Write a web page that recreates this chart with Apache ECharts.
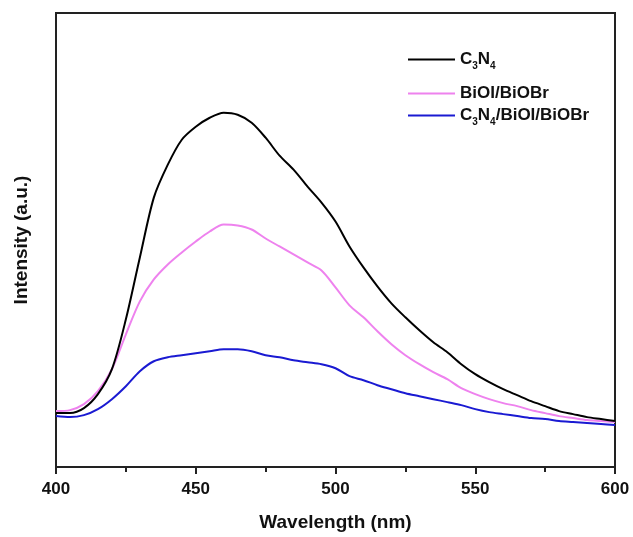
<!DOCTYPE html>
<html>
<head>
<meta charset="utf-8">
<script src="https://cdn.jsdelivr.net/npm/echarts@6/dist/echarts.min.js"></script>
<style>
html,body{margin:0;padding:0;background:#fff;}
#chart{width:633px;height:537px;}
</style>
</head>
<body>
<div id="chart"></div>
<script>
// wavelength (nm), every 5 nm
var wavelengths = [];
for (var w = 400; w <= 600; w += 5) wavelengths.push(w);

// intensity (arbitrary units)
var c3n4 = [54,54,59,73,98,148,210,270,303,328,341,350,355,353,345,330,312,298,281,265,
  246,221,200,181,164,150,137,125,115,103,93,85,78,72,66,61,56,53,50,48,46];
var bioiBiobr = [56,57,63,76,98,133,166,188,203,215,226,236,243,242,238,229,221,213,205,197,
  180,162,150,136,123,112,103,95,88,79,73,68,64,61,57,54,51,49,47,46,45];
var ternary = [51,50,52,58,68,81,96,106,110,112,114,116,118,118,116,112,110,107,105,103,
  99,91,87,82,78,74,71,68,65,62,58,55,53,51,49,48,46,45,44,43,42];

var names = ['C3N4', 'BiOI/BiOBr', 'C3N4/BiOI/BiOBr'];
var colors = ['#000000', '#ee82ee', '#1a1ad2'];
var allData = [c3n4, bioiBiobr, ternary];

var fontFam = '"Liberation Sans", Arial, sans-serif';

function pairs(ys){
	var out = [];
	for (var i = 0; i < ys.length; i++) out.push([wavelengths[i], ys[i]]);
	return out;
}

function legendLabel(name){
	return name.replace(/C3N4/g, 'C{sub|3}N{sub|4}');
}

var series = [];
var legends = [];
var legendTops = [46, 80, 102];
for (var i = 0; i < names.length; i++) {
	series.push({
		name: names[i],
		type: 'line',
		data: pairs(allData[i]),
		smooth: 0.3,
		symbol: 'none',
		lineStyle: {color: colors[i], width: 2},
		itemStyle: {color: colors[i]},
		z: 10 - i
	});
	legends.push({
		data: [names[i]],
		left: 403,
		top: legendTops[i],
		icon: 'rect',
		itemWidth: 47,
		itemHeight: 2,
		itemGap: 0,
		formatter: legendLabel,
		textStyle: {
			fontFamily: fontFam, fontSize: 17, fontWeight: 'bold', color: '#111',
			rich: {
				sub: {fontFamily: fontFam, fontSize: 10, fontWeight: 'bold', color: '#111',
					verticalAlign: 'bottom', padding: [0, 0, -3, 0]}
			}
		}
	});
}

var chart = echarts.init(document.getElementById('chart'));
chart.setOption({
	animation: false,
	backgroundColor: '#fff',
	grid: {left: 56, right: 18, top: 13, bottom: 69, show: true, borderColor: '#222', borderWidth: 2},
	legend: legends,
	xAxis: {
		type: 'value',
		min: 400, max: 600, interval: 50,
		name: 'Wavelength (nm)',
		nameLocation: 'middle',
		nameGap: 46,
		nameTextStyle: {fontFamily: fontFam, fontSize: 19, fontWeight: 'bold', color: '#111'},
		axisLine: {show: true, lineStyle: {color: '#222', width: 2}},
		axisTick: {show: true, inside: false, length: 7, lineStyle: {color: '#222', width: 2}},
		minorTick: {show: true, splitNumber: 2, length: 5, lineStyle: {color: '#222', width: 2}},
		axisLabel: {fontFamily: fontFam, fontSize: 17, fontWeight: 'bold', color: '#111', margin: 14},
		splitLine: {show: false}
	},
	yAxis: {
		type: 'value',
		min: 0, max: 455,
		name: 'Intensity (a.u.)',
		nameLocation: 'middle',
		nameGap: 25,
		nameTextStyle: {fontFamily: fontFam, fontSize: 19, fontWeight: 'bold', color: '#111'},
		axisLine: {show: true, lineStyle: {color: '#222', width: 2}},
		axisTick: {show: false},
		axisLabel: {show: false},
		splitLine: {show: false}
	},
	series: series
});
</script>
</body>
</html>
